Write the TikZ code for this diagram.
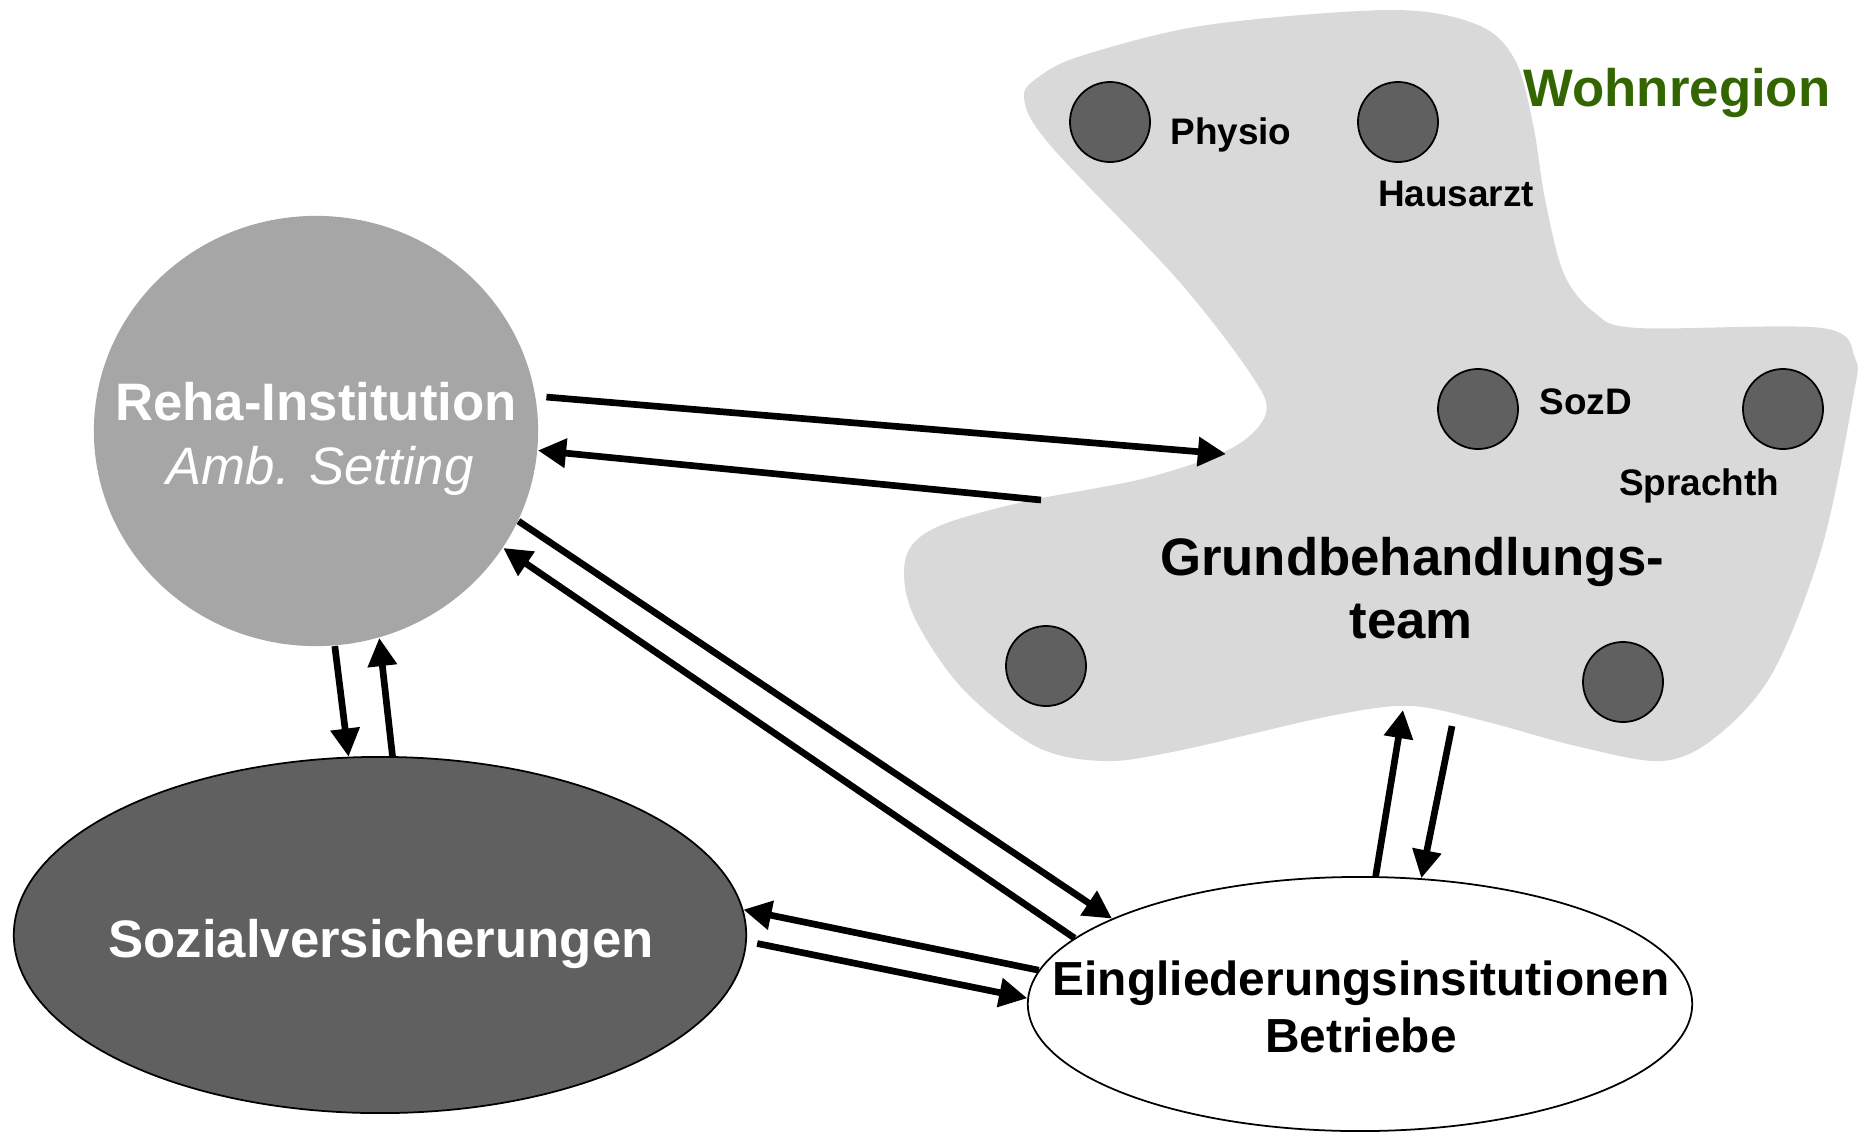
\documentclass[tikz,border=0pt]{standalone}
\usepackage{fontspec}
\setmainfont{Liberation Sans}
\usepackage{tikz}
\usetikzlibrary{positioning,arrows.meta,shapes.geometric}
\usepackage{xcolor}
\definecolor{rehagray}{RGB}{166,166,166}
\definecolor{darkfill}{RGB}{96,96,96}
\definecolor{blobgray}{RGB}{217,217,217}
\definecolor{wohngreen}{RGB}{51,102,0}
\tikzset{
  link/.style={line width=1.9pt,-{Triangle[length=8pt,width=8pt]}},
  member/.style={circle,draw=black,line width=0.5pt,fill=darkfill,minimum size=0.8cm,inner sep=0pt},
  smalltxt/.style={font=\fontsize{10.5}{12}\selectfont\bfseries},
  bigtxt/.style={font=\fontsize{15}{18}\selectfont\bfseries},
}

\begin{document}
\begin{tikzpicture}[x=0.01cm,y=-0.01cm]
\useasboundingbox (0,0) rectangle (1863,1133);
% Wohnregion area
\fill[blobgray] plot[smooth cycle,tension=0.55] coordinates {
  (1024,98) (1040,76) (1084,55) (1207,25) (1392,10) (1478,25) (1515,60) (1533,124)
  (1545,199) (1564,274) (1595,313) (1638,328) (1822,328) (1855,358) (1853,398)
  (1822,547) (1773,672) (1717,736) (1662,761) (1576,746) (1484,721) (1410,706)
  (1330,716) (1177,751) (1103,761) (1035,746) (961,687) (912,612) (906,557)
  (937,527) (1023,502) (1146,478) (1232,448) (1266,413) (1250,373) (1177,279)
  (1050,145)};
\node[font=\fontsize{15}{18}\selectfont\bfseries,text=wohngreen,anchor=base] (wohn) at (1677,106) {Wohnregion};
% team members
\node[member] (physio) at (1110,122) {};
\node[member] (hausarzt) at (1398,122) {};
\node[member] (sozd) at (1478,409) {};
\node[member] (sprachth) at (1783,409) {};
\node[member] (m-left) at (1046,666) {};
\node[member] (m-right) at (1623,682) {};
\node[smalltxt,anchor=base west] (physio-lbl) at (1158,144) {Physio};
\node[smalltxt,anchor=base] (hausarzt-lbl) at (1456,206) {Hausarzt};
\node[smalltxt,anchor=base west] (sozd-lbl) at (1527,414) {SozD};
\node[smalltxt,anchor=base] (sprachth-lbl) at (1699,495) {Sprachth};
% Grundbehandlungsteam
\node[bigtxt,anchor=base] (gbt) at (1412,575) {Grundbehandlungs-};
\node[bigtxt,anchor=base] (gbt-2) at (1411,638) {team};
\coordinate (gbt-w-in) at (1226,454);
\coordinate (gbt-w-out) at (1041,500);
\coordinate (gbt-s-in) at (1403,710);
\coordinate (gbt-s-out) at (1452,726);
% Reha-Institution
\node[ellipse,fill=rehagray,minimum width=4.44cm,minimum height=4.30cm,inner sep=0pt] (reha) at (316,431) {};
\node[bigtxt,white,anchor=base] (reha-1) at (316,420) {Reha-Institution};
\node[font=\fontsize{15}{18}\selectfont\itshape,white,anchor=base] (reha-2) at (320,484) {Amb. Setting};
% Sozialversicherungen
\node[ellipse,draw=black,line width=0.5pt,fill=darkfill,minimum width=7.32cm,minimum height=3.56cm,inner sep=0pt] (soz) at (380,935) {};
\node[bigtxt,white,anchor=base] (soz-1) at (381,957) {Sozialversicherungen};
% Eingliederung
\node[ellipse,draw=black,line width=0.5pt,fill=white,minimum width=6.64cm,minimum height=2.54cm,inner sep=0pt] (eing) at (1360,1004) {};
\node[font=\fontsize{13.6}{16}\selectfont\bfseries,anchor=base] (eing-1) at (1361,995) {Eingliederungsinsitutionen};
\node[font=\fontsize{13.6}{16}\selectfont\bfseries,anchor=base] (eing-2) at (1361,1052) {Betriebe};
% links
\draw[link,shorten <=3pt] (reha.9) -- (gbt-w-in);
\draw[link] (gbt-w-out) -- (reha.-5);
\draw[link] (reha.-24) -- (eing.161);
\draw[link] (eing.167) -- (reha.-32);
\draw[link] (reha.-85) -- (soz.100);
\draw[link] (soz.86) -- (reha.-73);
\draw[link] (eing.174) -- (soz.4);
\draw[link,shorten <=3pt] (soz.-1) -- (eing.179);
\draw[link] (eing.83) -- (gbt-s-in);
\draw[link] (gbt-s-out) -- (eing.64);
\end{tikzpicture}
\end{document}
